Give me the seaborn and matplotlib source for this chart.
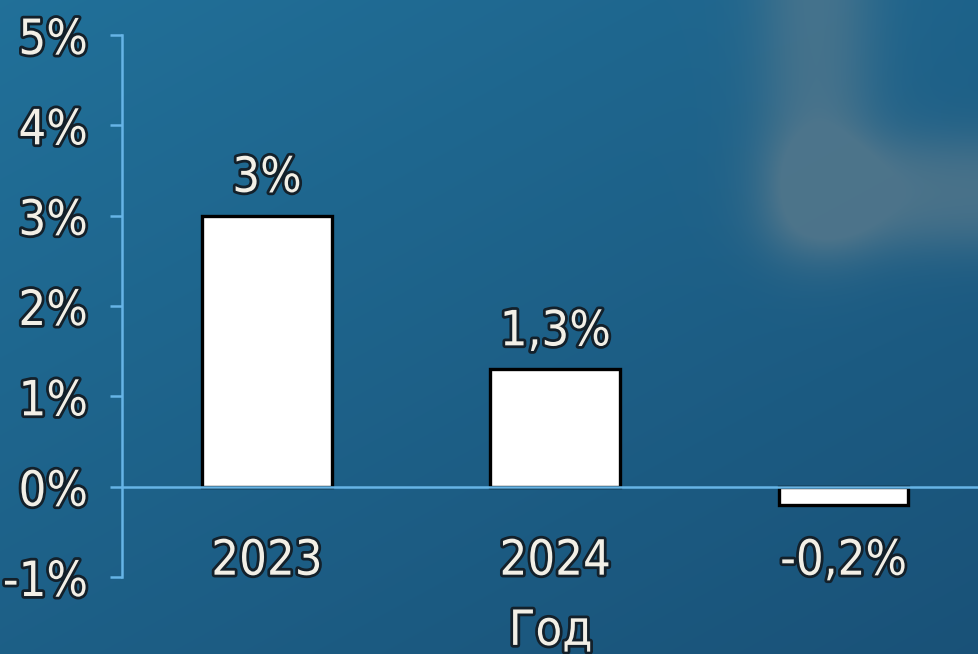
import numpy as np
import pandas as pd
import matplotlib
matplotlib.use("Agg")
import matplotlib.pyplot as plt
import matplotlib.patheffects as pe
from matplotlib import font_manager as fm
import seaborn as sns

# data
categories = ["2023", "2024", "-0,2%"]
values = [3.0, 1.3, -0.2]
bar_labels = ["3%", "1,3%", ""]
y_ticks = [-1, 0, 1, 2, 3, 4, 5]
y_tick_labels = ["-1%", "0%", "1%", "2%", "3%", "4%", "5%"]

df = pd.DataFrame({"year": categories, "value": values})

sns.set_theme(style="white")

# look for a narrow face; the reference uses a condensed font
narrow = [f for f in fm.fontManager.ttflist
          if f.stretch in ("condensed", "semi-condensed", "extra-condensed")
          or "Narrow" in f.name or "Condensed" in f.name]
narrow = [f for f in narrow if f.weight in (400, "normal", "regular", 300, "light")] or narrow
if narrow:
    fam, stretch, fsize = narrow[0].name, narrow[0].stretch, 35
else:
    fam, stretch, fsize = "DejaVu Sans", "normal", 30
plt.rcParams["font.family"] = [fam, "DejaVu Sans"]
plt.rcParams["font.stretch"] = stretch

text_color = "#f2efe6"
line_color = "#66b4e6"
outline = [pe.withStroke(linewidth=4, foreground="#13202a")]

fig = plt.figure(figsize=(9.79, 6.54), dpi=100)

# blue backdrop with a soft light shape in the upper right
bg = fig.add_axes([0, 0, 1, 1], zorder=0)
h, w = 654, 979
yy, xx = np.mgrid[0:1:h * 1j, 0:1:w * 1j]
base_top = np.array([0.13, 0.44, 0.60])
base_bot = np.array([0.10, 0.32, 0.47])
t = np.clip(0.55 * yy + 0.45 * xx, 0, 1)[..., None]
img = base_top * (1 - t) + base_bot * t


def soft(a, lo, hi, s=0.025):
    return 1 / (1 + np.exp(-(a - lo) / s)) * 1 / (1 + np.exp((a - hi) / s))


vert = soft(xx, 0.79, 0.88, 0.02) * soft(yy, -0.2, 0.38, 0.03)
horiz = soft(xx, 0.80, 1.2, 0.02) * soft(yy, 0.22, 0.37, 0.025)
light = np.clip(vert + horiz, 0, 1)[..., None] * 0.7
img = img * (1 - light) + np.array([0.38, 0.49, 0.55]) * light
bg.imshow(img, aspect="auto", extent=[0, 1, 0, 1])
bg.axis("off")

ax = fig.add_axes([0.1246, 0.1177, 0.8754, 0.8288], zorder=1)
ax.patch.set_alpha(0)

sns.barplot(data=df, x="year", y="value", color="white", saturation=1,
            edgecolor="black", linewidth=2.4, width=0.45, ax=ax)

ax.set_xlim(-0.503, 2.47)
ax.set_ylim(-1, 5)
ax.set_yticks(y_ticks, labels=y_tick_labels)

for side in ["top", "right"]:
    ax.spines[side].set_visible(False)
ax.spines["left"].set_color(line_color)
ax.spines["left"].set_linewidth(1.8)
ax.spines["bottom"].set_position(("data", 0))
ax.spines["bottom"].set_color(line_color)
ax.spines["bottom"].set_linewidth(1.8)

ax.yaxis.set_ticks_position("left")
ax.tick_params(axis="y", length=8.6, width=1.8, color=line_color, pad=16,
               labelsize=fsize, labelcolor=text_color)
ax.tick_params(axis="x", length=0, pad=36, labelsize=fsize, labelcolor=text_color)

ax.bar_label(ax.containers[0], labels=bar_labels, padding=10, fontsize=fsize,
             color=text_color, path_effects=outline)

ax.set_ylabel("")
ax.set_xlabel("Год", fontsize=fsize, color=text_color, labelpad=16,
              path_effects=outline)

for lab in ax.get_xticklabels() + ax.get_yticklabels():
    lab.set_path_effects(outline)

fig.savefig("out.png", dpi=100)
